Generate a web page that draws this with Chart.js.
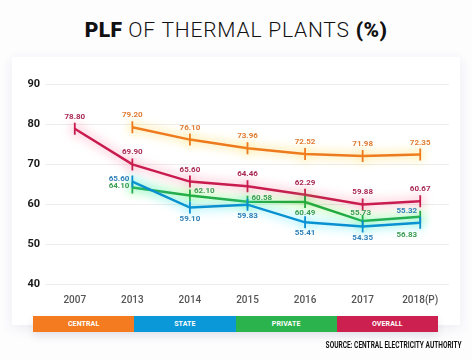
<!DOCTYPE html>
<html>
<head>
<meta charset="utf-8">
<script src="https://cdn.jsdelivr.net/npm/chart.js@4"></script>
<style>
  html, body { margin:0; padding:0; }
  body { width:472px; height:360px; background:#fdfdfe; position:relative; overflow:hidden; font-family:Roboto, sans-serif; }
  #title { position:absolute; left:0; top:18px; width:472px; text-align:center; font-size:21px; line-height:24px; color:#111; white-space:nowrap; letter-spacing:0.8px; }
  #title .b { font-weight:900; letter-spacing:0.3px; }
  #title .l { font-weight:300; }
  #card { position:absolute; left:12px; top:57px; width:448px; height:268px; background:#fff; box-shadow:0 3px 12px rgba(60,60,120,0.09); }
  #wrap { position:absolute; left:12px; top:57px; width:448px; height:263px; }
  #legend { position:absolute; left:33px; top:316px; width:405px; height:16px; display:flex; box-shadow:0 4px 8px rgba(60,60,110,0.12); }
  #legend div { flex:1; color:#fff; font-weight:700; font-size:7px; line-height:16px; text-align:center; letter-spacing:0.1px; }
  #source { position:absolute; right:10px; top:340px; font-family:Roboto, sans-serif; font-weight:700; font-size:8.5px; color:#111; white-space:nowrap; transform:scaleX(0.77); transform-origin:right center; }
</style>
</head>
<body>
<div id="title"><span class="b">PLF</span> <span class="l">OF THERMAL PLANTS</span> <span class="b">(%)</span></div>
<div id="card"></div>
<div id="wrap"><canvas id="c"></canvas></div>
<div id="legend"></div>
<div id="source">SOURCE: CENTRAL ELECTRICITY AUTHORITY</div>
<script>
// ---- data ----
const categories = ['2007', '2013', '2014', '2015', '2016', '2017', '2018(P)'];
const seriesNames = ['CENTRAL', 'STATE', 'PRIVATE', 'OVERALL'];
const central = [null, 79.20, 76.10, 73.96, 72.52, 71.98, 72.35];
const state   = [null, 65.60, 59.10, 59.83, 55.41, 54.35, 55.32];
const privat  = [null, 64.10, 62.10, 60.58, 60.49, 55.73, 56.83];
const overall = [78.80, 69.90, 65.60, 64.46, 62.29, 59.88, 60.67];
const yTicks = [40, 50, 60, 70, 80, 90];

// ---- styles ----
const lineColors  = ['#ee7a1f', '#0a8fd0', '#25a83f', '#c81b4e'];
const glowColors  = ['rgba(255,205,40,1)', 'rgba(40,225,255,1)', 'rgba(90,255,60,1)', 'rgba(255,110,150,0.95)'];
const labelColors = ['#e07b33', '#2f7fb8', '#3c9c52', '#a92a55'];
const legendColors = ['#f47b20', '#0b98d8', '#2bb34e', '#cc2150'];
// label placement per point: [dx, dy, align]
const A = [0, -12, 'center'];
const labelPlacement = [
  [A, A, A, A, A, A, A],
  [null, [-3, -3, 'right'], [0, 11, 'center'], [0, 11, 'center'], [0, 11, 'center'], [0, 11, 'center'], [-3, -12, 'right']],
  [null, [-3, -2, 'right'], [4, -5, 'left'], [4, -4, 'left'], [0, 11, 'center'], [-2, -8, 'center'], [-3, 18, 'right']],
  [A, A, A, A, A, A, A]
];

const seriesData = [central, state, privat, overall];

document.getElementById('legend').innerHTML = seriesNames.map((n, i) =>
  '<div style="background:' + legendColors[i] + '">' + n + '</div>').join('');

const glowPlugin = {
  id: 'glow',
  beforeDatasetDraw(chart, args) {
    const ctx = chart.ctx;
    ctx.save();
    ctx.shadowColor = glowColors[args.index];
    ctx.shadowBlur = 11;
  },
  afterDatasetDraw(chart) {
    chart.ctx.restore();
  }
};

const labelPlugin = {
  id: 'valueLabels',
  afterDatasetsDraw(chart) {
    const ctx = chart.ctx;
    ctx.save();
    ctx.font = '700 8px Roboto';
    ctx.textBaseline = 'middle';
    chart.data.datasets.forEach((ds, i) => {
      const meta = chart.getDatasetMeta(i);
      meta.data.forEach((pt, j) => {
        const v = ds.data[j];
        if (v === null || v === undefined) return;
        const p = labelPlacement[i][j];
        ctx.fillStyle = labelColors[i];
        ctx.textAlign = p[2];
        ctx.fillText(v.toFixed(2), pt.x + p[0], pt.y + p[1]);
      });
    });
    ctx.restore();
  }
};

new Chart(document.getElementById('c'), {
  type: 'line',
  data: {
    labels: categories,
    datasets: seriesData.map((d, i) => ({
      label: seriesNames[i],
      data: d,
      borderColor: lineColors[i],
      backgroundColor: lineColors[i],
      borderWidth: 2.5,
      tension: 0,
      fill: false,
      spanGaps: false,
      pointStyle: 'line',
      pointRotation: 90,
      pointRadius: 6,
      pointBorderWidth: 1.8,
      pointBorderColor: lineColors[i],
      pointHoverRadius: 6
    }))
  },
  options: {
    responsive: true,
    maintainAspectRatio: false,
    animation: false,
    events: [],
    layout: { padding: { left: 0, right: 11, top: 27, bottom: 4 } },
    plugins: { legend: { display: false }, tooltip: { enabled: false } },
    scales: {
      x: {
        offset: true,
        grid: { display: false, drawTicks: false },
        border: { display: false },
        ticks: { color: '#555', font: { family: 'Roboto', size: 10, weight: '500' }, padding: 10 }
      },
      y: {
        min: yTicks[0],
        max: yTicks[yTicks.length - 1],
        afterBuildTicks(scale) { scale.ticks = yTicks.map(v => ({ value: v })); },
        afterFit(scale) { scale.width = 34; },
        grid: { color: '#ececec', drawTicks: false, lineWidth: 1 },
        border: { display: false },
        ticks: { color: '#1a1a1a', font: { family: 'Roboto', size: 11, weight: '700' }, padding: 6 }
      }
    }
  },
  plugins: [glowPlugin, labelPlugin]
});
</script>
</body>
</html>
